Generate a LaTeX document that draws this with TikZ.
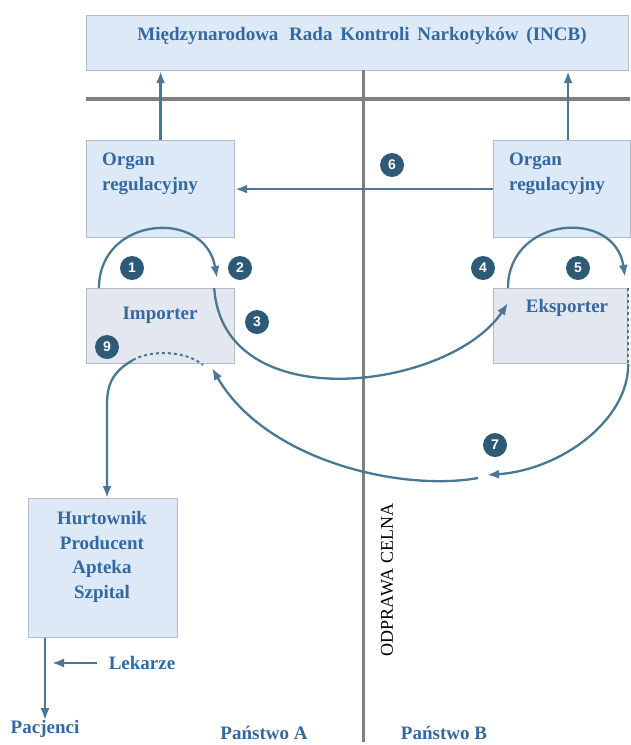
\documentclass[tikz,border=0pt]{standalone}
\usepackage{fontspec}
\setmainfont{Liberation Serif}
\newfontfamily\badgefont{Liberation Sans}
\usetikzlibrary{positioning,arrows.meta,calc}

\begin{document}
\begin{tikzpicture}[x=1pt,y=1pt,
  box/.style={draw=cedge,fill=cbox,line width=1.2pt,anchor=north west,inner sep=0pt},
  actor/.style={box,fill=cact},
  lbl/.style={text=ctxt,font=\fontsize{19}{24.5}\selectfont\bfseries,inner sep=0pt},
  badge/.style={circle,fill=cbadge,text=white,minimum size=24pt,inner sep=0pt,
    font=\badgefont\fontsize{14}{14}\selectfont\bfseries},
  flow/.style={draw=cflow,line width=2.3pt,-{Latex[length=12pt,width=9pt]}},
  sepline/.style={draw=csep}]
\definecolor{cbox}{RGB}{221,233,246}\definecolor{cact}{RGB}{227,231,239}
\definecolor{cedge}{RGB}{178,187,198}\definecolor{ctxt}{RGB}{52,104,163}
\definecolor{cflow}{RGB}{74,120,148}\definecolor{cbadge}{RGB}{45,90,118}
\definecolor{csep}{RGB}{128,128,128}
\useasboundingbox (0,0) rectangle (630,-745);
% boxes
\node[box,minimum width=542,minimum height=55] (incb) at (86,-15) {};
\node[box,minimum width=148,minimum height=97] (orgA) at (86,-140) {};
\node[box,minimum width=137,minimum height=97] (orgB) at (493,-140) {};
\node[actor,minimum width=148,minimum height=75] (imp) at (86,-288) {};
\node[actor,minimum width=134,minimum height=75] (eks) at (493,-288) {};
\node[box,minimum width=149,minimum height=139] (hurt) at (28,-498) {};
% separators
\draw[sepline,line width=4pt] (incb.south west |- 0,-99) -- (630,-99);
\draw[sepline,line width=3pt] (363,-70) -- (363,-742);
% texts
\node[lbl] (incbtxt) at (362,-36) {Międzynarodowa\hspace{6pt} Rada\hspace{3pt} Kontroli\hspace{3pt} Narkotyków\hspace{3pt} (INCB)};
\node[lbl,anchor=west,align=left] (orgAtxt) at (102,-174) {Organ\\regulacyjny};
\node[lbl,anchor=west,align=left] (orgBtxt) at (509,-174) {Organ\\regulacyjny};
\node[lbl] (imptxt) at (160,-315) {Importer};
\node[lbl] (ekstxt) at (567,-308) {Eksporter};
\node[lbl,align=center] (hurttxt) at (102,-557) {Hurtownik\\Producent\\Apteka\\Szpital};
\node[lbl] (lek) at (142,-663) {Lekarze};
\node[lbl] (pac) at (45,-729) {Pacjenci};
\node[lbl] (panA) at (264,-733) {Państwo A};
\node[lbl] (panB) at (444,-733) {Państwo B};
\node[rotate=90,font=\fontsize{18}{18}\selectfont,inner sep=0pt] (clo) at (387,-580) {ODPRAWA CELNA};
% reports to INCB
\draw[flow] (orgA.north) -- (orgA.north |- incb.south);
\draw[flow] ($(orgB.north)+(6,0)$) -- ($(orgB.north |- incb.south)+(6,0)$);
\draw[flow] (orgB.west) -- (orgA.east);
% free ends of the curved flows
\coordinate (i2) at (217,-278);
\coordinate (e3) at (508,-303);
\coordinate (e5) at (625,-277);
\coordinate (t7) at (487,-475);
\coordinate (s7) at (478,-478);
\coordinate (i7) at (212,-368);
\coordinate (d9) at (133,-360);
\coordinate (d9e) at (203,-365);
\coordinate (bend) at (107,-405);
\coordinate (lekend) at (52,-663);
% importer <-> organ A, importer -> eksporter
\draw[flow] ($(imp.north west)+(13,0)$) .. controls +(0,72) and +(-12,70) .. (i2);
\draw[flow] ($(imp.north east)+(-21,0)$) .. controls +(9,-132) and +(-58,-87) .. (e3);
% eksporter <-> organ B, shipment back
\draw[flow] ($(eks.north west)+(15,0)$) .. controls +(0,72) and +(-10,69) .. (e5);
\draw[cflow,line width=2pt,dashed] (eks.north east) -- (eks.south east);
\draw[flow] (eks.south east) .. controls +(0,-57) and +(73,5) .. (t7);
\draw[flow] (s7) .. controls +(-78,-14) and +(53,-92) .. (i7);
% distribution
\draw[cflow,line width=2pt,dashed] (d9) .. controls +(17,10) and +(-18,15) .. (d9e);
\draw[flow] (d9) .. controls +(-21,-12) and +(0,20) .. (bend) -- (bend |- hurt.north);
\draw[flow] (hurt.south -| pac) -- (pac.north);
\draw[flow] (lek.west) ++(-12,0) -- (lekend);
% numbered badges
\node[badge] (n1) at (132,-268) {1};
\node[badge] (n2) at (240,-268) {2};
\node[badge] (n3) at (257,-322) {3};
\node[badge] (n4) at (483,-268) {4};
\node[badge] (n5) at (578,-268) {5};
\node[badge] (n6) at (392,-165) {6};
\node[badge] (n7) at (495,-445) {7};
\node[badge] (n9) at (107,-347) {9};
\end{tikzpicture}
\end{document}
